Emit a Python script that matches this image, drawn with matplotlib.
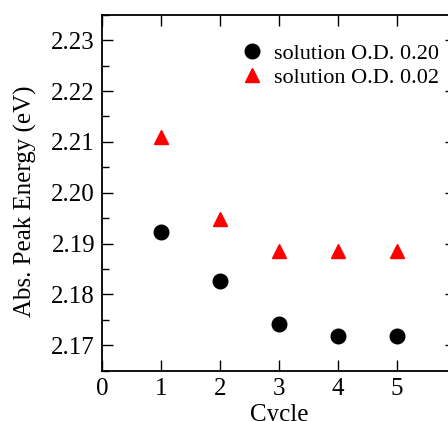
import numpy as np
import matplotlib.pyplot as plt

plt.rcParams['font.family'] = 'Liberation Serif'

cycle = [1, 2, 3, 4, 5]
od_020 = [2.1922, 2.1827, 2.1741, 2.1718, 2.1718]
od_002 = [2.2109, 2.1949, 2.1886, 2.1886, 2.1886]

fig = plt.figure(figsize=(4.48, 4.21), dpi=100)
ax = fig.add_axes([0.2277, 0.1195, 0.79, 0.8455])

ax.plot(cycle, od_020, 'o', color='black', markersize=10.5, label='solution O.D. 0.20')
ax.plot(cycle, od_002, '^', color='red', markersize=9.5, label='solution O.D. 0.02')

ax.set_xlim(0, 6)
ax.set_ylim(2.165, 2.235)
ax.set_xticks([0, 1, 2, 3, 4, 5])
ax.set_yticks([2.17, 2.18, 2.19, 2.20, 2.21, 2.22, 2.23])
ax.set_yticklabels(['2.17', '2.18', '2.19', '2.20', '2.21', '2.22', '2.23'])
ax.set_yticks(np.arange(2.165, 2.2351, 0.005), minor=True)
ax.tick_params(which='both', direction='in', top=True, right=True, labelsize=18, width=1)
ax.tick_params(which='major', length=8, pad=5)
ax.tick_params(which='minor', length=5)
ax.tick_params(axis='x', which='minor', top=False, bottom=False)
for s in ax.spines.values():
    s.set_linewidth(1.3)

ax.set_xlabel('Cycle', fontsize=18, labelpad=3)
ax.set_ylabel('Abs. Peak Energy (eV)', fontsize=18)
ax.yaxis.set_label_coords(-0.183, 0.477)
ax.legend(loc='upper left', bbox_to_anchor=(0.33, 0.975), frameon=False, fontsize=16,
          handletextpad=0.4, labelspacing=0.15, handlelength=1.2)

fig.savefig('out.png', dpi=100)
